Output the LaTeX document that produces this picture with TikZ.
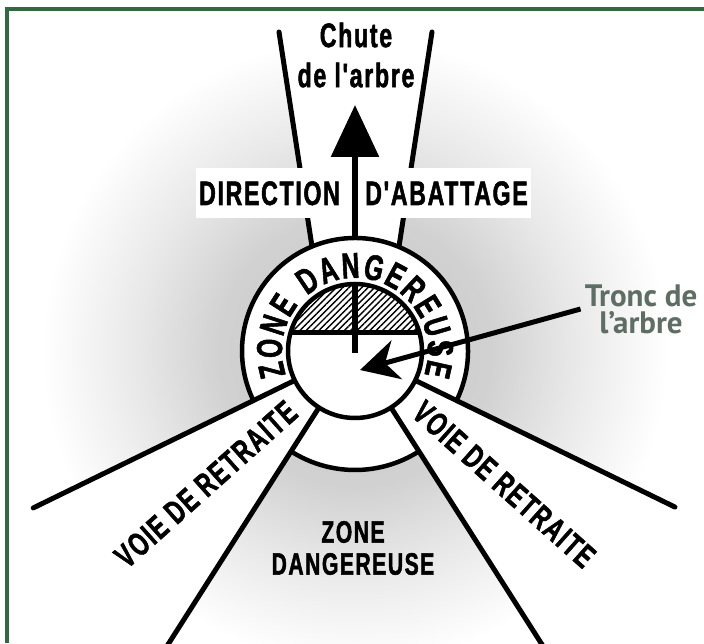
\documentclass[tikz,border=0pt]{standalone}
\usepackage{fontspec}
\newfontfamily\cond[FakeStretch=0.68,FakeBold=1.5,LetterSpace=5]{Liberation Sans}
\newfontfamily\labelfont{PT Sans}
\usetikzlibrary{arrows.meta,patterns.meta,decorations.text}
\pgfdeclareradialshading{glow}{\pgfpointorigin}{color(0bp)=(black!21); color(10bp)=(black!18); color(16bp)=(black!9); color(23bp)=(white); color(50bp)=(white)}
\definecolor{framegreen}{RGB}{50,105,65}
\definecolor{labelgray}{RGB}{95,110,100}
\begin{document}
\begin{tikzpicture}[x=1pt,y=1pt,
  blackline/.style={line width=5pt, line cap=round},
  ringline/.style={line width=4.5pt},
  condtext/.style={font=\cond\bfseries\fontsize{34}{34}\selectfont, inner sep=0pt},
  lanetext/.style={font=\cond\bfseries\fontsize{33}{33}\selectfont, inner sep=0pt},
]
\useasboundingbox (0,0) rectangle (704,643);
\begin{scope}
\clip (0,0) rectangle (704,643);
\fill[white] (0,0) rectangle (704,643);
\coordinate (C) at (355,292);
\shade[shading=glow] (C) circle (340);
% fall zone
\coordinate (fl1) at (279,611);
\coordinate (fl2) at (313,390);
\coordinate (fr1) at (432,611);
\coordinate (fr2) at (398,390);
\fill[white] (fl1) -- (fr1) -- (fr2) -- (fl2) -- cycle;
% retreat lanes
\fill[white] (C) -- ([shift={(206:450)}]C) -- ([shift={(237.5:450)}]C) -- cycle;
\fill[white] (C) -- ([shift={(-26:450)}]C) -- ([shift={(-57.5:450)}]C) -- cycle;
% fall zone lines
\draw[blackline] (fl1) -- (fl2);
\draw[blackline] (fr1) -- (fr2);
% direction labels
\node[condtext, fill=white, inner xsep=3pt, inner ysep=13pt, anchor=base] (dir1) at (269.5,438) {DIRECTION};
\node[condtext, fill=white, inner xsep=3pt, inner ysep=13pt, anchor=base] (dir2) at (446.5,438) {D'ABATTAGE};
% fall direction arrow
\coordinate (arrowtip) at (355,538);
\draw[line width=6pt, -{Triangle[length=52pt,width=47pt]}] (C) -- (arrowtip);
\node[inner sep=0pt, align=center, font=\cond\bfseries\fontsize{34}{40}\selectfont] (chute) at (356,588) {Chute\\de l'arbre};
% ring
\fill[white] (C) circle (113);
\fill[white] (C) -- ([shift={(237.5:119)}]C) arc[start angle=237.5, end angle=302.5, radius=119] -- cycle;
\draw[ringline] ([shift={(-26:113)}]C) arc[start angle=-26, end angle=206, radius=113];
\draw[ringline] ([shift={(237.5:119)}]C) arc[start angle=237.5, end angle=302.5, radius=119];
\path[decorate, decoration={text along path, text align={fit to path},
  text={|\cond\bfseries\fontsize{36}{36}\selectfont|ZONE DANGEREUSE}}]
  ([shift={(199:73)}]C) arc[start angle=199, end angle=-19, radius=73];
% lane lines
\draw[blackline] (C) -- ([shift={(206:358)}]C);
\draw[blackline] (C) -- ([shift={(237.5:420)}]C);
\draw[blackline] (C) -- ([shift={(-26:356)}]C);
\draw[blackline] (C) -- ([shift={(-57.5:420)}]C);
\node[lanetext, rotate=41.75] (voie1) at ([shift={(221.75:200)}]C) {VOIE DE RETRAITE};
\node[lanetext, rotate=-41.75] (voie2) at ([shift={(-41.75:200)}]C) {VOIE DE RETRAITE};
\node[inner sep=0pt, align=center, font=\cond\bfseries\fontsize{31}{32}\selectfont] (zone) at (353,95) {ZONE\\DANGEREUSE};
% trunk
\fill[white] (C) circle (67);
\fill[pattern={Lines[angle=45,distance=4.5pt,line width=1.4pt]}] ([shift={(15.6:67)}]C) arc[start angle=15.6, end angle=164.4, radius=67] -- cycle;
\draw[ringline] (C) circle (67);
\draw[blackline, line cap=butt] ([shift={(164.4:67)}]C) -- ([shift={(15.6:67)}]C);
\draw[line width=6pt] (355,290) -- (355,358);
% pointer
\node[font=\labelfont\bfseries\fontsize{31}{27}\selectfont, text=labelgray, align=center, inner sep=0pt] (tronc) at (641,334) {Tronc de\\l’arbre};
\coordinate (trunkpt) at (360,273);
\draw[line width=5pt, -{Stealth[length=38pt,width=40pt,inset=12pt]}] ([xshift=-4pt]tronc.west) -- (trunkpt);
% frame
\draw[framegreen, line width=3.5pt] (7,0) -- (7,634) -- (704,634);
\end{scope}
\end{tikzpicture}
\end{document}
